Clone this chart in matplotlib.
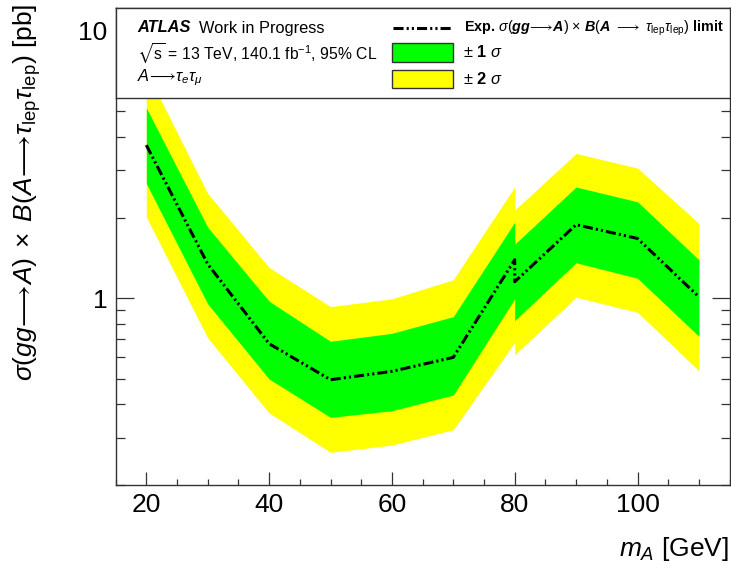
import matplotlib
matplotlib.use("Agg")
import matplotlib.pyplot as plt
from matplotlib.patches import Rectangle
from matplotlib.lines import Line2D
from matplotlib.ticker import LogLocator, FixedLocator, NullFormatter, MultipleLocator

plt.rcParams['font.family'] = ['Liberation Sans', 'DejaVu Sans']
plt.rcParams['mathtext.fontset'] = 'custom'
plt.rcParams['mathtext.rm'] = 'Liberation Sans'
plt.rcParams['mathtext.it'] = 'Liberation Sans:italic'
plt.rcParams['mathtext.bf'] = 'Liberation Sans:bold'
plt.rcParams['mathtext.bfit'] = 'Liberation Sans:bold:italic'
plt.rcParams['mathtext.fallback'] = 'stixsans'

# ---- data ----
mass = [20, 30, 40, 50, 60, 70, 80, 80, 90, 100, 110]
exp_limit = [3.73, 1.34, 0.675, 0.495, 0.532, 0.600, 1.39, 1.15, 1.88, 1.67, 1.01]
plus1 = [5.14, 1.84, 0.973, 0.689, 0.738, 0.852, 1.92, 1.59, 2.60, 2.29, 1.39]
minus1 = [2.68, 0.951, 0.498, 0.358, 0.379, 0.434, 0.993, 0.823, 1.355, 1.186, 0.719]
plus2 = [7.05, 2.46, 1.30, 0.929, 0.993, 1.17, 2.60, 2.13, 3.47, 3.06, 1.90]
minus2 = [2.01, 0.710, 0.372, 0.265, 0.282, 0.322, 0.683, 0.614, 1.007, 0.885, 0.535]

W, H = 731, 569
fig = plt.figure(figsize=(W / 100, H / 100), dpi=100)

def fx(x):
    return x / W

def fy(y):
    return 1 - y / H

L, R, T, B = 115.6, 729.6, 8.0, 485.0
ax = fig.add_axes([fx(L), fy(B), fx(R - L), fy(T) - fy(B)])

ax.fill_between(mass, minus2, plus2, color='#ffff00', lw=0, zorder=1)
ax.fill_between(mass, minus1, plus1, color='#00ff00', lw=0, zorder=2)
ls = (0, (3.3, 1.0, 0.7, 1.0, 0.7, 1.0))
ax.plot(mass, exp_limit, color='black', lw=2.2, linestyle=ls, zorder=3)

ax.set_yscale('log')
ax.set_xlim(15, 115)
ax.set_ylim(0.2, 12.14)

ax.xaxis.set_major_locator(MultipleLocator(20))
ax.xaxis.set_minor_locator(MultipleLocator(5))
ax.yaxis.set_major_locator(FixedLocator([1, 10]))
ax.yaxis.set_major_formatter(matplotlib.ticker.FixedFormatter(['1', '10']))
ax.yaxis.set_minor_locator(LogLocator(base=10, subs=range(2, 10)))
ax.yaxis.set_minor_formatter(NullFormatter())

ax.tick_params(axis='both', which='both', direction='in', color='#333333', width=0.9)
ax.tick_params(axis='y', which='major', length=13, right=True, labelsize=19, pad=6)
ax.tick_params(axis='y', which='minor', length=6.5, right=True)
ax.tick_params(axis='x', which='major', length=9.5, top=False, labelsize=19, pad=6)
ax.tick_params(axis='x', which='minor', length=4.5, top=False)
for s in ax.spines.values():
    s.set_linewidth(1.0)
    s.set_color('#333333')

# legend box on top
LB = 98.0
lax = fig.add_axes([fx(L), fy(LB), fx(R - L), fy(T) - fy(LB)], zorder=5)
lax.set_facecolor('white')
lax.set_xticks([])
lax.set_yticks([])
for s in lax.spines.values():
    s.set_linewidth(1.0)
    s.set_color('#333333')

fs = 11.8
fig.text(fx(137), fy(28), 'ATLAS', fontsize=fs, fontweight='bold', fontstyle='italic',
         va='center', ha='left', zorder=10)
fig.text(fx(199), fy(28), 'Work in Progress', fontsize=fs, va='center', ha='left', zorder=10)
fig.text(fx(137), fy(54), r'$\sqrt{\mathrm{s}}$ = 13 TeV, 140.1 fb$^{-1}$, 95% CL', fontsize=11.3,
         va='center', ha='left', zorder=10)
fig.text(fx(137), fy(78), r'$A\!\longrightarrow\!\tau_{e}\tau_{\mu}$', fontsize=fs,
         va='center', ha='left', zorder=10)

# legend entries
line = Line2D([fx(393), fx(452)], [fy(28), fy(28)], transform=fig.transFigure,
              color='black', lw=2.2, linestyle=ls, zorder=10)
fig.add_artist(line)
fig.text(fx(464), fy(28),
         r'Exp. $\sigma(\mathbfit{gg}\!\longrightarrow\!\mathbfit{A})$ $\times$ $\mathbfit{B}(\mathbfit{A}$ $\longrightarrow$ $\tau_{\rm lep}\tau_{\rm lep})$ limit',
         fontsize=10.4, fontweight='bold', va='center', ha='left', zorder=10)
g = Rectangle((fx(392), fy(62)), fx(61), fy(43) - fy(62), transform=fig.transFigure,
              facecolor='#00ff00', edgecolor='#333333', lw=1.0, zorder=10)
y = Rectangle((fx(392), fy(88)), fx(61), fy(70) - fy(88), transform=fig.transFigure,
              facecolor='#ffff00', edgecolor='#333333', lw=1.0, zorder=10)
fig.add_artist(g)
fig.add_artist(y)
fig.text(fx(463), fy(52), r'$\pm$ $\mathbf{1}$ $\sigma$', fontsize=fs, va='center', ha='left', zorder=10)
fig.text(fx(463), fy(79), r'$\pm$ $\mathbf{2}$ $\sigma$', fontsize=fs, va='center', ha='left', zorder=10)

# axis titles
fig.text(fx(729), fy(549), r'$m_{A}$ [GeV]', fontsize=19, ha='right', va='center')
fig.text(fx(27), fy(4),
         r'$\sigma(gg\!\longrightarrow\!A)\;\times\;B(A\!\longrightarrow\!\tau_{\rm lep}\tau_{\rm lep})$ [pb]',
         fontsize=19, rotation=90, ha='center', va='top')

fig.savefig('out.png', dpi=100)
